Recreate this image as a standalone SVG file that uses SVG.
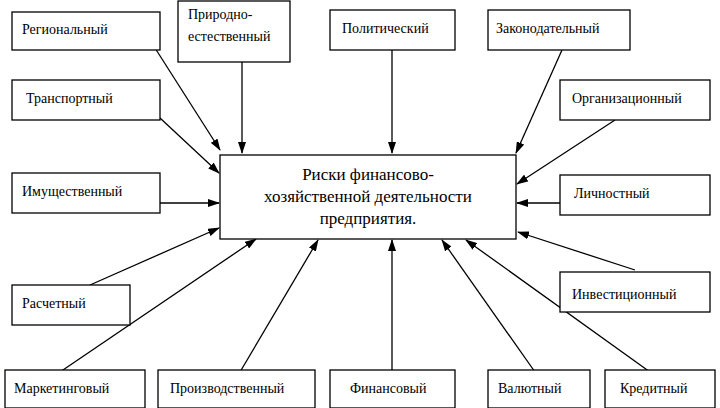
<svg xmlns="http://www.w3.org/2000/svg" width="720" height="408" viewBox="0 0 720 408" font-family="'Liberation Serif','DejaVu Serif',serif">
<style>
rect{fill:#fff;stroke:#000;stroke-width:1.3}
text{font-family:'Liberation Serif','DejaVu Serif',serif;font-size:14px;fill:#000}
.c{font-size:17px;text-anchor:middle}
line{stroke:#000;stroke-width:1.3;marker-end:url(#a)}
</style>
<defs><marker id="a" markerWidth="12" markerHeight="8" refX="11" refY="4" orient="auto" markerUnits="userSpaceOnUse"><path d="M0,0L12,4L0,8z"/></marker></defs>
<rect x="0" y="0" width="720" height="408" style="stroke:none"/>
<g id="connectors">
<line x1="155" y1="48" x2="220" y2="150"/>
<line x1="242" y1="62" x2="242" y2="153"/>
<line x1="392" y1="50" x2="392" y2="153"/>
<line x1="562" y1="50" x2="516" y2="153"/>
<line x1="160" y1="118" x2="219" y2="173"/>
<line x1="160" y1="203" x2="219" y2="203"/>
<line x1="90" y1="285" x2="219" y2="228"/>
<line x1="60" y1="372" x2="256" y2="239"/>
<line x1="240" y1="372" x2="318" y2="240"/>
<line x1="392" y1="372" x2="392" y2="240"/>
<line x1="535" y1="372" x2="442" y2="240"/>
<line x1="650" y1="372" x2="466" y2="240"/>
<line x1="635" y1="270" x2="518" y2="232"/>
<line x1="560" y1="203" x2="517" y2="203"/>
<line x1="615" y1="120" x2="517" y2="184"/>
</g>
<g id="center"><rect x="220" y="155" width="296" height="84"/><text class="c" x="368" y="180">Риски финансово-</text><text class="c" x="368" y="202">хозяйственной деятельности</text><text class="c" x="368" y="224">предприятия.</text></g>
<g id="n1"><rect x="12" y="12" width="148" height="38"/><text x="22" y="34">Региональный</text></g>
<g id="n2"><rect x="178" y="1" width="112" height="61"/><text x="188" y="19">Природно-</text><text x="188" y="41">естественный</text></g>
<g id="n3"><rect x="330" y="10" width="125" height="40"/><text x="342" y="33">Политический</text></g>
<g id="n4"><rect x="488" y="10" width="142" height="40"/><text x="496" y="33">Законодательный</text></g>
<g id="n5"><rect x="12" y="80" width="148" height="40"/><text x="26" y="103">Транспортный</text></g>
<g id="n6"><rect x="560" y="80" width="150" height="40"/><text x="572" y="103">Организационный</text></g>
<g id="n7"><rect x="12" y="173" width="148" height="40"/><text x="22" y="196">Имущественный</text></g>
<g id="n8"><rect x="560" y="175" width="150" height="40"/><text x="574" y="198">Личностный</text></g>
<g id="n9"><rect x="12" y="285" width="118" height="40"/><text x="22" y="308">Расчетный</text></g>
<g id="n10"><rect x="560" y="272" width="150" height="40"/><text x="572" y="299">Инвестиционный</text></g>
<g id="n11"><rect x="5" y="370" width="140" height="38"/><text x="14" y="393">Маркетинговый</text></g>
<g id="n12"><rect x="158" y="370" width="157" height="38"/><text x="170" y="393">Производственный</text></g>
<g id="n13"><rect x="330" y="370" width="125" height="38"/><text x="350" y="393">Финансовый</text></g>
<g id="n14"><rect x="488" y="370" width="102" height="38"/><text x="498" y="393">Валютный</text></g>
<g id="n15"><rect x="605" y="370" width="110" height="38"/><text x="620" y="393">Кредитный</text></g>
</svg>
